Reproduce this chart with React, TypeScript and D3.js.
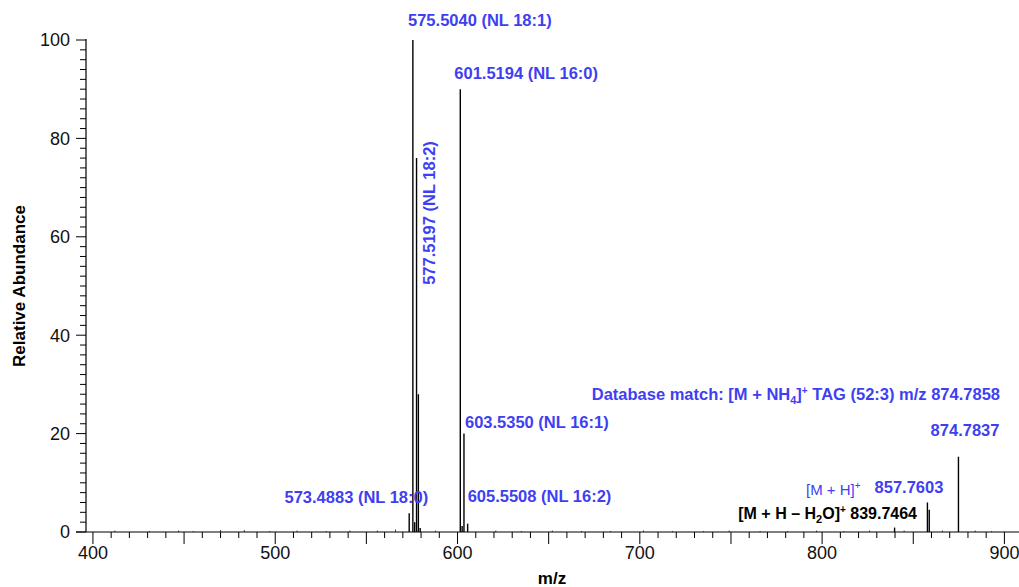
import React from 'react';
import * as d3 from 'd3';

// peaks: [m/z, relative abundance]
const peakMz = [573.4883, 575.504, 576.507, 577.5197, 578.523, 579.52, 601.5194, 602.52, 603.535, 605.5508, 839.7464, 857.7603, 858.763, 874.7837];
const peakInt = [3.8, 100, 2.0, 76, 28, 0.8, 90, 1.2, 20, 1.7, 0.9, 6, 4.5, 15.3];

// tiny baseline noise peaks
const noiseMz = [412, 431, 447, 455, 470, 483, 497, 512, 528, 541, 556, 566, 588, 621, 635, 652, 668, 684, 702, 718, 735, 749, 766, 781, 797, 812, 826, 845, 866, 884, 893];
const noiseInt = [0.3, 0.2, 0.3, 0.2, 0.4, 0.4, 0.2, 0.3, 0.2, 0.3, 0.3, 0.5, 0.3, 0.3, 0.2, 0.3, 0.2, 0.2, 0.3, 0.2, 0.2, 0.3, 0.2, 0.2, 0.3, 0.2, 0.3, 0.3, 0.3, 0.3, 0.2];

const xTickLabels = [400, 500, 600, 700, 800, 900];
const yTickLabels = [0, 20, 40, 60, 80, 100];

const BLUE = '#3f3ff2';

const App = () => {
  const width = 1019;
  const height = 587;
  const left = 86;
  const bottom = 532;
  const top = 40;

  const x = d3.scaleLinear().domain([396.2, 908]).range([left, 1019]);
  const y = d3.scaleLinear().domain([0, 100]).range([bottom, top]);

  const xMinor = d3.range(400, 910, 10);
  const yMinor = d3.range(0, 101, 2);

  const font = 'Arial, "Liberation Sans", sans-serif';

  return (
    <svg width={width} height={height} style={{ position: 'absolute', left: 0, top: 0, background: '#fff' }} fontFamily={font}>
      {/* noise */}
      {noiseMz.map((m, i) => (
        <line key={'n' + i} x1={x(m)} x2={x(m)} y1={y(0)} y2={y(noiseInt[i])} stroke="#444" strokeWidth={1} />
      ))}
      {/* peaks */}
      {peakMz.map((m, i) => (
        <line key={'p' + i} x1={x(m)} x2={x(m)} y1={y(0)} y2={y(peakInt[i])} stroke="#000" strokeWidth={1.4} />
      ))}

      {/* axes */}
      <line x1={left} x2={left} y1={y(100) - 1} y2={bottom} stroke="#000" strokeWidth={1.2} />
      <line x1={left - 10} x2={1019} y1={bottom} y2={bottom} stroke="#000" strokeWidth={1.2} />

      {yMinor.map(v => (
        <line key={'yt' + v} x1={left - (v % 20 === 0 ? 10 : 6)} x2={left} y1={y(v)} y2={y(v)} stroke="#000" strokeWidth={1} />
      ))}
      {yTickLabels.map(v => (
        <text key={'yl' + v} x={left - 16} y={y(v)} dy="0.35em" textAnchor="end" fontSize={18} fill="#111">{v}</text>
      ))}
      {xMinor.map(v => (
        <line key={'xt' + v} x1={x(v)} x2={x(v)} y1={bottom} y2={bottom + (v % 50 === 0 ? 12 : 6)} stroke="#000" strokeWidth={1} />
      ))}
      {xTickLabels.map(v => (
        <text key={'xl' + v} x={x(v)} y={bottom + 27} textAnchor="middle" fontSize={18} fill="#111">{v}</text>
      ))}

      <text x={552} y={584} textAnchor="middle" fontSize={17} fontWeight="bold">m/z</text>
      <text transform={`translate(25,${(top + bottom) / 2}) rotate(-90)`} textAnchor="middle" fontSize={17} fontWeight="bold">Relative Abundance</text>

      {/* annotations */}
      <g fill={BLUE} fontWeight="bold" fontSize={16.5}>
        <text x={x(575.504) + 67} y={26} textAnchor="middle">575.5040 (NL 18:1)</text>
        <text x={x(601.5194) - 6} y={79}>601.5194 (NL 16:0)</text>
        <text transform={`translate(${x(577.5197) + 18},${213}) rotate(-90)`} textAnchor="middle">577.5197 (NL 18:2)</text>
        <text x={x(603.535) + 1} y={428}>603.5350 (NL 16:1)</text>
        <text x={x(605.5508) + 0} y={502}>605.5508 (NL 16:2)</text>
        <text x={x(573.4883) + 19} y={503} textAnchor="end">573.4883 (NL 18:0)</text>
        <text x={x(874.7837) + 41} y={436} textAnchor="end">874.7837</text>
        <text x={1000} y={400} textAnchor="end">
          Database match: [M + NH<tspan fontSize={11} dy={4}>4</tspan><tspan dy={-4}>]</tspan><tspan fontSize={10} dy={-6}>+</tspan><tspan dy={6}>{'  '}TAG (52:3) m/z 874.7858</tspan>
        </text>
        <text x={909} y={493} textAnchor="middle">857.7603</text>
        <text x={806} y={495} fontWeight="normal" fontSize={15}>
          [M + H]<tspan fontSize={10} dy={-6}>+</tspan>
        </text>
      </g>
      <text x={917} y={519} textAnchor="end" fontWeight="bold" fontSize={16} fill="#000">
        [M + H – H<tspan fontSize={11} dy={4}>2</tspan><tspan dy={-4}>O]</tspan><tspan fontSize={10} dy={-6}>+</tspan><tspan dy={6}> 839.7464</tspan>
      </text>
    </svg>
  );
};

export default App;
